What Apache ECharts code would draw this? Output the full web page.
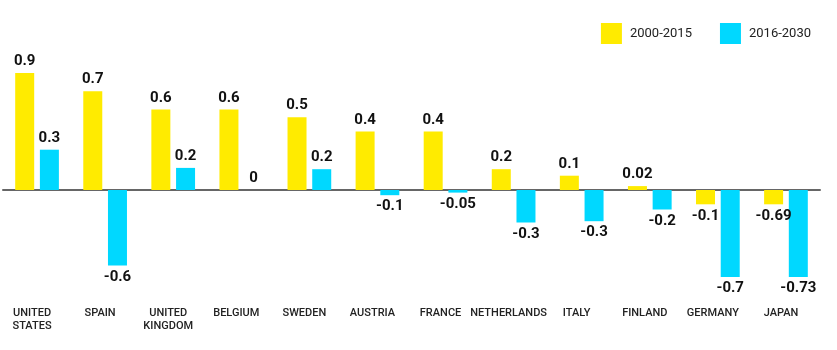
<!DOCTYPE html>
<html>
<head>
<meta charset="utf-8">
<script src="https://cdn.jsdelivr.net/npm/echarts@6/dist/echarts.min.js"></script>
<style>html,body{margin:0;padding:0;background:#fff}#c{width:837px;height:350px}</style>
</head>
<body>
<div id="c"></div>
<script>
const categories = ['UNITED\nSTATES','SPAIN','UNITED\nKINGDOM','BELGIUM','SWEDEN','AUSTRIA','FRANCE','NETHERLANDS','ITALY','FINLAND','GERMANY','JAPAN'];
const seriesNames = ['2000-2015','2016-2030'];
// bar lengths as drawn in the picture
const values2000 = [0.9,0.76,0.62,0.62,0.56,0.45,0.45,0.16,0.11,0.03,-0.11,-0.11];
const values2016 = [0.31,-0.58,0.17,0,0.16,-0.04,-0.02,-0.25,-0.24,-0.15,-0.67,-0.67];
// labels printed on the bars
const labels2000 = ['0.9','0.7','0.6','0.6','0.5','0.4','0.4','0.2','0.1','0.02','-0.1','-0.69'];
const labels2016 = ['0.3','-0.6','0.2','0','0.2','-0.1','-0.05','-0.3','-0.3','-0.2','-0.7','-0.73'];

const colors = ['#FFEB00','#00D8FF'];
function mk(vals, labs){
  return vals.map((v,i)=>({
    value:v,
    label:{position: v<0?'bottom':'top', formatter: labs[i]}
  }));
}
const chart = echarts.init(document.getElementById('c'));
chart.setOption({
  animation:false,
  color: colors,
  legend:{
    right:21, top:18, itemWidth:21, itemHeight:21, itemGap:28, icon:'rect',
    textStyle:{fontFamily:'Roboto', fontSize:13, color:'#222', padding:[0,0,0,3]},
    data: seriesNames
  },
  grid:{left:3, right:17, top:73, bottom:43},
  xAxis:[{
    type:'category', data:categories,
    axisLine:{onZero:true, lineStyle:{color:'#666', width:2}},
    axisTick:{show:false}, axisLabel:{show:false}
  },{
    type:'category', data:categories, position:'bottom',
    axisLine:{show:false, onZero:false}, axisTick:{show:false},
    axisLabel:{interval:0, margin:0, fontFamily:'Roboto', fontSize:11, fontWeight:500, color:'#222', lineHeight:13, verticalAlign:'top', padding:[0,10,0,0]}
  }],
  yAxis:{type:'value', min:-0.9, max:0.9, show:false, splitLine:{show:false}},
  series:[
    {name:seriesNames[0], type:'bar', xAxisIndex:0, barWidth:19, barGap:'30%', data:mk(values2000, labels2000),
     label:{show:true, distance:4, fontFamily:'Roboto', fontSize:15, fontWeight:'bold', color:'#111'}},
    {name:seriesNames[1], type:'bar', xAxisIndex:0, barWidth:19, barGap:'30%', data:mk(values2016, labels2016),
     label:{show:true, distance:4, fontFamily:'Roboto', fontSize:15, fontWeight:'bold', color:'#111'}}
  ]
});
</script>
</body>
</html>
